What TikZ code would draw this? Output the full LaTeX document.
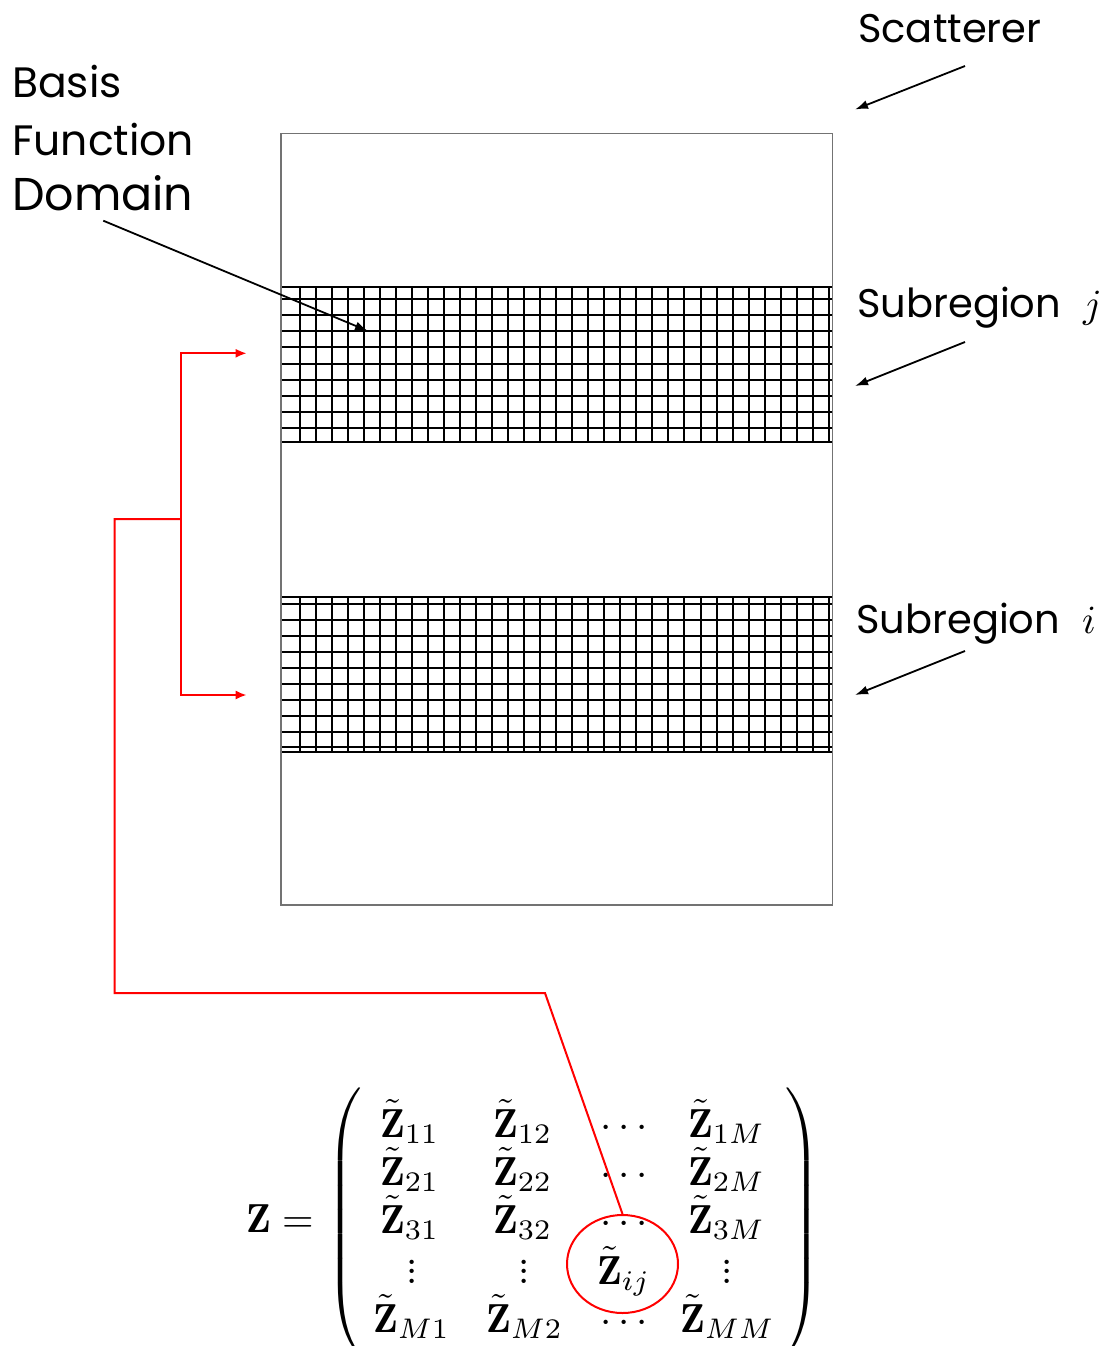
\documentclass[tikz,border=0pt]{standalone}
\usepackage{amsmath}
\usepackage{graphicx}
\usepackage{fontspec}
\newfontfamily\labelfont{Poppins}
\usetikzlibrary{arrows.meta,shapes.geometric}
\newcommand\tz[1]{\tilde{\mathbf{Z}}_{#1}}
\newcommand\mz[1]{\scalebox{4.05}{\fontsize{10}{12}\selectfont$#1$}}
\newcommand\shortvdots{\vbox{\baselineskip2.3pt\lineskiplimit0pt\hbox{.}\hbox{.}\hbox{.}}}
\newcommand\lblmath[1]{\scalebox{4}{\fontsize{10}{12}\selectfont$#1$}}
\begin{document}
\begin{tikzpicture}[x=1pt,y=-1pt,
  lbl/.style={anchor=base west,inner sep=0pt,font=\labelfont\fontsize{40}{48}\selectfont},
  ent/.style={anchor=base west,inner sep=0pt},
  dotent/.style={anchor=base,inner sep=0pt},
  blackarrow/.style={line width=1.8pt,-{Latex[length=13pt,width=9pt]}},
  redline/.style={draw=red,line width=2pt},
  redarrow/.style={redline,-{Latex[length=11pt,width=9pt]}},
  gridline/.style={line width=2pt,black},
  framebox/.style={draw=black!55,line width=1.3pt}]
\useasboundingbox (0,0) rectangle (1109,1346);
% grids
\foreach \k in {0,...,33}{
  \draw[gridline] ({300+16.02*\k},287.3) -- ({300+16.02*\k},441.7);
  \draw[gridline] ({300+16.02*\k},597.3) -- ({300+16.02*\k},751.7);
}
\foreach \y in {287.3,441.7,597.3,746.7,751.7}{
  \draw[gridline] (281,\y) -- (832.7,\y);
}
\foreach \k in {0,...,8}{
  \draw[gridline] (281,{299.3+16.05*\k}) -- (832.7,{299.3+16.05*\k});
  \draw[gridline] (281,{604+16*\k}) -- (832.7,{604+16*\k});
}
% scatterer frame
\draw[framebox] (281,133.3) rectangle (832.7,905);
% labels
\node[lbl] (scat) at (858,43) {Scatterer};
\node[lbl] (subj) at (857,317) {Subregion\hspace{22pt}\lblmath{j}};
\node[lbl] (subi) at (856,633) {Subregion\hspace{22pt}\lblmath{i}};
\node[lbl,font=\labelfont\fontsize{42.5}{50}\selectfont] (basis) at (12,97) {Basis};
\node[lbl,font=\labelfont\fontsize{42.5}{50}\selectfont] (func) at (12,155) {Function};
\node[lbl,font=\labelfont\fontsize{46}{52}\selectfont] (dom) at (12,210) {Domain};
% black arrows
\coordinate (scatA) at (965,66);
\coordinate (scatB) at (855,109.5);
\coordinate (subjA) at (965,342);
\coordinate (subjB) at (855,386);
\coordinate (subiA) at (965,651);
\coordinate (subiB) at (855,695);
\coordinate (domA) at (103.3,220.7);
\coordinate (domB) at (368,331);
\draw[blackarrow] (scatA) -- (scatB);
\draw[blackarrow] (subjA) -- (subjB);
\draw[blackarrow] (subiA) -- (subiB);
\draw[blackarrow] (domA) -- (domB);
% matrix equation
\node[ent] (zeq) at (246,1232) {\mz{\mathbf{Z}=}};
\node[anchor=west,inner sep=0pt] (lpar) at (326,1222) {\scalebox{4.05}{\fontsize{10}{12}\selectfont$\left(\vrule height 37pt depth 32pt width 0pt\right.$}};
\node[anchor=east,inner sep=0pt] (rpar) at (821,1222) {\scalebox{4.05}{\fontsize{10}{12}\selectfont$\left.\vrule height 37pt depth 32pt width 0pt\right)$}};
% row 1
\node[ent] (m11) at (380,1137) {\mz{\tz{11}}};
\node[ent] (m12) at (493,1137) {\mz{\tz{12}}};
\node[ent] (m13) at (600,1137) {\mz{\cdots}};
\node[ent] (m14) at (688,1137) {\mz{\tz{1M}}};
% row 2
\node[ent] (m21) at (380,1185) {\mz{\tz{21}}};
\node[ent] (m22) at (493,1185) {\mz{\tz{22}}};
\node[ent] (m23) at (600,1185) {\mz{\cdots}};
\node[ent] (m24) at (688,1185) {\mz{\tz{2M}}};
% row 3
\node[ent] (m31) at (380,1233) {\mz{\tz{31}}};
\node[ent] (m32) at (493,1233) {\mz{\tz{32}}};
\node[ent] (m33) at (600,1233) {\mz{\cdots}};
\node[ent] (m34) at (688,1233) {\mz{\tz{3M}}};
% row 4
\node[dotent] (m41) at (412,1283) {\mz{\shortvdots}};
\node[dotent] (m42) at (524,1283) {\mz{\shortvdots}};
\node[ent] (m43) at (597,1284) {\mz{\tz{ij}}};
\node[dotent] (m44) at (727,1283) {\mz{\shortvdots}};
% row 5
\node[ent] (m51) at (373,1332) {\mz{\tz{M1}}};
\node[ent] (m52) at (486,1332) {\mz{\tz{M2}}};
\node[ent] (m53) at (600,1332) {\mz{\cdots}};
\node[ent] (m54) at (680,1332) {\mz{\tz{MM}}};
% red circle
\node[ellipse,redline,minimum width=111pt,minimum height=98pt,inner sep=0pt] (circ) at (622.5,1264) {};
% red connectors
\coordinate (tj) at (246.7,353.3);
\coordinate (ti) at (246.7,695);
\coordinate (mid) at (180.7,519);
\coordinate (leftup) at (114.7,519);
\coordinate (leftlow) at (114.7,993);
\coordinate (bend) at (545,993);
\draw[redarrow] (mid) |- (tj);
\draw[redarrow] (mid) |- (ti);
\draw[redline] (mid) -- (leftup) -- (leftlow) -- (bend) -- (circ.north);
\end{tikzpicture}
\end{document}
